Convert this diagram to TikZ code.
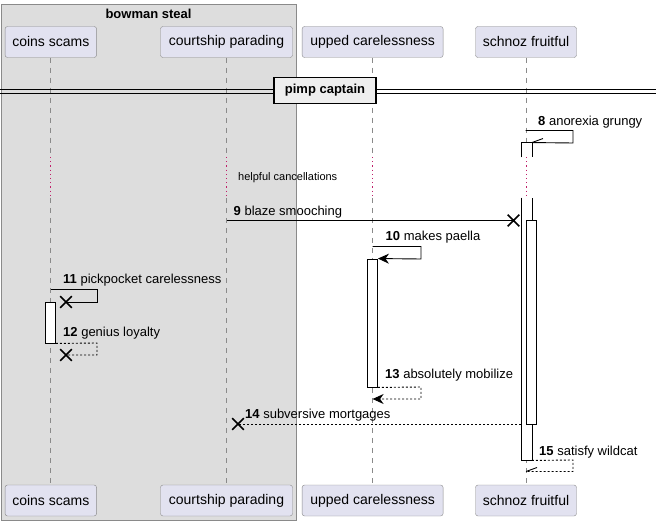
\documentclass[tikz,border=0pt]{standalone}
\usepackage{fontspec}
\setmainfont{Liberation Sans}
\usetikzlibrary{arrows.meta,shapes.misc}
\definecolor{partfill}{HTML}{E2E2F0}
\definecolor{partline}{HTML}{8A8A8A}
\definecolor{groupfill}{HTML}{DDDDDD}
\definecolor{dividerfill}{HTML}{EEEEEE}
\definecolor{delaydots}{HTML}{C0206A}
\begin{document}
\begin{tikzpicture}[
x=1pt, y=-1pt,
font=\fontsize{13}{15}\selectfont,
participant/.style={
draw=partline,
fill=partfill,
rounded corners=2.5pt,
minimum height=31pt,
inner sep=0pt,
font=\fontsize{14}{16}\selectfont
},
lifeline/.style={draw=partline, line width=0.8pt, dash pattern=on 5pt off 5pt},
delayline/.style={draw=delaydots, line width=1pt, dash pattern=on 1.2pt off 3pt},
activation/.style={draw, fill=white, line width=0.9pt, inner sep=0pt, minimum width=10pt},
msglabel/.style={anchor=base west, inner sep=0pt},
call/.style={line width=0.9pt, -{Stealth[length=11pt,width=10pt,inset=3.5pt]}},
reply/.style={call, dash pattern=on 2pt off 2pt},
halfcall/.style={line width=0.9pt},
halfreply/.style={halfcall, dash pattern=on 2pt off 2pt},
lost/.style={draw, cross out, line width=1.6pt, minimum size=10pt, inner sep=0pt}
]
\useasboundingbox (0,0) rectangle (656,526);

% box around the first two participants
\draw[partline, fill=groupfill] (1,4.5) rectangle (296,520.5);
\node[font=\bfseries\fontsize{13}{15}\selectfont, anchor=base] (grouptitle) at (148.5,19) {bowman steal};

% participants
\node[participant, minimum width=91.5pt] (coins) at (50.8,42) {coins scams};
\node[participant, minimum width=132pt] (courtship) at (226.5,42) {courtship parading};
\node[participant, minimum width=141pt] (upped) at (372.6,42) {upped carelessness};
\node[participant, minimum width=101pt] (schnoz) at (526,42) {schnoz fruitful};
\node[participant, minimum width=91.5pt] (coins-b) at (50.8,500.5) {coins scams};
\node[participant, minimum width=132pt] (courtship-b) at (226.5,500.5) {courtship parading};
\node[participant, minimum width=141pt] (upped-b) at (372.6,500.5) {upped carelessness};
\node[participant, minimum width=101pt] (schnoz-b) at (526,500.5) {schnoz fruitful};

% lifelines with the delay
\coordinate (delaytop) at (0,157);
\coordinate (delaybot) at (0,198);
\foreach \p in {coins,courtship,upped,schnoz} {
\draw[lifeline] (\p.south) -- (\p |- delaytop);
\draw[delayline] (\p |- delaytop) -- (\p |- delaybot);
\draw[lifeline] (\p |- delaybot) -- (\p-b.north);
}
\node[font=\fontsize{11}{13}\selectfont, anchor=west, inner sep=0pt] (delaytext) at (238,178) {helpful cancellations};

% divider
\draw[line width=0.9pt] (0,89.5) -- (656,89.5);
\draw[line width=0.9pt] (0,93) -- (656,93);
\node[draw, fill=dividerfill, line width=1.6pt, minimum width=102pt, minimum height=26pt,
font=\bfseries\fontsize{13}{15}\selectfont] (divider) at (325,90.5) {pimp captain};

% activations
\node[activation, draw=none, minimum height=14pt] (act8) at (526.5,150) {};
\draw[line width=0.9pt] (act8.south west) -- (act8.north west) -- (act8.north east) -- (act8.south east);
\node[activation, draw=none, minimum height=262pt] (act8b) at (526.5,329) {};
\draw[line width=0.9pt] (act8b.north west) -- (act8b.south west) -- (act8b.south east) -- (act8b.north east);
\node[activation, minimum height=204pt] (act9) at (531.5,322) {};
\node[activation, minimum height=128pt] (act10) at (372.5,323) {};
\node[activation, minimum height=41pt] (act11) at (50.5,322.5) {};

% messages
\draw[halfcall] (525.5,130.5) -- (573,130.5) -- (573,143) -- (act8.north east) -- ++(11,-4);
\node[msglabel] (m8) at (538,126) {\textbf{8} anorexia grungy};

\node[lost] (x9) at (513.5,220.5) {};
\draw[line width=0.9pt] (courtship |- x9) -- (x9.center);
\node[msglabel] (m9) at (233.5,216) {\textbf{9} blaze smooching};

\draw[call] (372.5,246.5) -- (421,246.5) -- (421,259) -- (act10.north east);
\node[msglabel] (m10) at (385.5,240.5) {\textbf{10} makes paella};

\node[lost] (x11) at (66,302) {};
\draw[line width=0.9pt] (50.5,289.5) -- (97,289.5) -- (97,302) -- (x11.center);
\node[msglabel] (m11) at (63,284) {\textbf{11} pickpocket carelessness};

\node[lost] (x12) at (66,355) {};
\draw[line width=0.9pt, dash pattern=on 2pt off 2pt] (act11.south east) -- (97,343) -- (97,355) -- (x12.center);
\node[msglabel] (m12) at (63,337) {\textbf{12} genius loyalty};

\draw[reply] (act10.south east) -- (421,387) -- (421,399) -- (upped |- 0,399);
\node[msglabel] (m13) at (385,379) {\textbf{13} absolutely mobilize};

\node[lost] (x14) at (238,424) {};
\draw[line width=0.9pt, dash pattern=on 2pt off 2pt] (act8b.west |- x14) -- (x14.center);
\node[msglabel] (m14) at (245,419) {\textbf{14} subversive mortgages};

\draw[halfreply] (act8b.south east) -- (573,460) -- (573,471.5) -- (schnoz |- 0,471.5);
\draw[halfcall] (schnoz |- 0,471.5) -- ++(11,-4);
\node[msglabel] (m15) at (539,455) {\textbf{15} satisfy wildcat};
\end{tikzpicture}
\end{document}
